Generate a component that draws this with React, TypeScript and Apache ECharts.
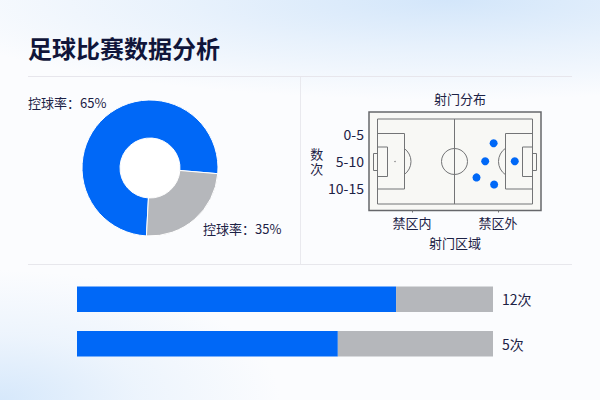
import React, { useEffect, useRef } from "react";
import * as echarts from "echarts";

const titleText = "足球比赛数据分析";
const pitchTitle = "射门分布";
const pitchXName = "射门区域";
const pitchYName = "数\n次";
const possessionNames = ["控球率\uff1a65%", "控球率\uff1a35%"];
const possessionSlices = [75.5, 24.5];
const zoneLabels = ["禁区内", "禁区外"];
const zoneTicks = [0.5, 1.5];
const countLabels = ["0-5", "5-10", "10-15"];
const countTicks = [0, 1, 2];
const shotX = [1.449, 1.351, 1.695, 1.25, 1.455];
const shotY = [0.33, 1, 1, 1.6, 1.86];
const barCategories = ["A", "B"];
const barBlue = [76.7, 62.7];
const barGray = [23.3, 37.3];
const barLabels = ["12次", "5次"];

const FONT = '"Noto Sans CJK SC", "Noto Sans", sans-serif';
const INK = "#1c2145";
const BLUE = "#0068f7";
const GRAY = "#b5b7bb";
const LINE = "#737476";

const pitchLine = { stroke: LINE, lineWidth: 1, fill: "transparent" };
const rect = (x: number, y: number, width: number, height: number) => ({
  type: "rect", z: 1, silent: true, shape: { x, y, width, height }, style: pitchLine,
});
const line = (x1: number, y1: number, x2: number, y2: number, stroke: string, lineWidth = 1) => ({
  type: "line", z: 1, silent: true, shape: { x1, y1, x2, y2 }, style: { stroke, lineWidth },
});
const arc = (cx: number, cy: number, r: number, startAngle: number, endAngle: number) => ({
  type: "arc", z: 1, silent: true, shape: { cx, cy, r, startAngle, endAngle },
  style: { stroke: LINE, lineWidth: 1, fill: "transparent" },
});

export default function App() {
  const ref = useRef<HTMLDivElement>(null);
  useEffect(() => {
    const chart = echarts.init(ref.current!, undefined, { renderer: "svg" });
    const a = Math.acos(9 / 16);
    chart.setOption({
      animation: false,
      textStyle: { fontFamily: FONT },
      title: [
        { text: titleText, left: 23, top: 26, textStyle: { fontSize: 24, fontWeight: 700, color: "#10153a", fontFamily: FONT, lineHeight: 32 } },
        { text: pitchTitle, left: 455, top: 84, textAlign: "center", textStyle: { fontSize: 13, fontWeight: 400, color: INK, fontFamily: FONT, lineHeight: 18 } },
      ],
      graphic: [
        line(28, 76.5, 572, 76.5, "#e7e6ec"),
        line(28, 264.5, 572, 264.5, "#e7e7ec"),
        line(300.5, 77, 300.5, 264, "#e9e9ee"),
        { type: "circle", z: 1, silent: true, shape: { cx: 150, cy: 167.5, r: 31 }, style: { fill: "#ffffff" } },
        rect(377.5, 119, 155, 85),
        line(454.5, 119, 454.5, 204, LINE),
        { type: "circle", z: 1, silent: true, shape: { cx: 454.5, cy: 161.5, r: 13 }, style: pitchLine },
        rect(377.5, 133.5, 27, 55.5),
        rect(377.5, 147, 10, 29.5),
        rect(373.5, 153.5, 4, 17),
        { type: "circle", z: 1, silent: true, shape: { cx: 395, cy: 161.5, r: 0.7 }, style: { fill: LINE } },
        arc(395, 161.5, 16, -a, a),
        rect(505.5, 133.5, 27, 55.5),
        rect(522.5, 147, 10, 29.5),
        rect(532.5, 153.5, 4, 17),
        arc(514.5, 161.5, 16, Math.PI - a, Math.PI + a),
      ],
      grid: [
        {
          left: 369, top: 112, width: 172, height: 98.5, show: true,
          backgroundColor: "#f8f8f5", borderColor: "#66676b", borderWidth: 1.5,
        },
        { left: 77, top: 277, width: 416, height: 89 },
      ],
      xAxis: [
        {
          gridIndex: 0, type: "value", min: 0, max: 2, splitLine: { show: false },
          axisLine: { show: false, onZero: false },
          axisTick: { show: true, customValues: zoneTicks, length: 2, lineStyle: { color: LINE } },
          axisLabel: {
            customValues: zoneTicks, margin: 5, fontSize: 13, color: INK, fontFamily: FONT,
            formatter: (v: number) => zoneLabels[zoneTicks.indexOf(v)],
          },
          name: pitchXName, nameLocation: "middle", nameGap: 25,
          nameTextStyle: { fontSize: 13, color: INK, fontFamily: FONT },
        },
        { gridIndex: 1, type: "value", min: 0, max: 100, show: false },
      ],
      yAxis: [
        {
          gridIndex: 0, type: "value", inverse: true, min: -0.828, max: 2.828, splitLine: { show: false },
          axisLine: { show: false, onZero: false }, axisTick: { show: false },
          axisLabel: {
            customValues: countTicks, margin: 5, fontSize: 14, color: INK, fontFamily: FONT,
            formatter: (v: number) => countLabels[countTicks.indexOf(v)],
          },
          name: pitchYName, nameLocation: "middle", nameGap: 43, nameRotate: 0,
          nameTextStyle: { fontSize: 13, color: INK, fontFamily: FONT, lineHeight: 15 },
        },
        { gridIndex: 1, type: "category", inverse: true, data: barCategories, show: false },
      ],
      series: [
        {
          type: "pie", center: [150, 168], radius: [30, 68], startAngle: -93, clockwise: true,
          itemStyle: { borderColor: "#ffffff", borderWidth: 1 },
          labelLine: { show: false },
          label: { show: true, overflow: "none", width: 120, fontSize: 13, color: INK, fontFamily: FONT, formatter: "{b}" },
          labelLayout: (p: any) => p.dataIndex === 0
            ? { x: 28, y: 102, align: "left", verticalAlign: "middle" }
            : { x: 203, y: 228, align: "left", verticalAlign: "middle" },
          data: possessionSlices.map((value, i) => ({
            value, name: possessionNames[i], itemStyle: { color: i === 0 ? BLUE : GRAY },
          })),
        },
        {
          type: "scatter", xAxisIndex: 0, yAxisIndex: 0, symbolSize: 8, z: 5,
          itemStyle: { color: BLUE, opacity: 1 },
          data: shotX.map((x, i) => [x, shotY[i]]),
        },
        {
          type: "bar", xAxisIndex: 1, yAxisIndex: 1, stack: "t", barWidth: 25.6,
          itemStyle: { color: BLUE }, data: barBlue,
        },
        {
          type: "bar", xAxisIndex: 1, yAxisIndex: 1, stack: "t", barWidth: 25.6,
          itemStyle: { color: GRAY }, data: barGray,
          label: {
            show: true, position: "right", distance: 9, fontSize: 14, color: INK, fontFamily: FONT,
            formatter: (p: any) => barLabels[p.dataIndex],
          },
        },
      ],
    });
    return () => chart.dispose();
  }, []);
  return (
    <div
      ref={ref}
      style={{
        position: "absolute", left: 0, top: 0, width: 600, height: 400,
        background:
          "radial-gradient(ellipse 540px 100px at 450px 0px, #d3e6fa 0%, rgba(220,235,251,0.6) 50%, rgba(255,255,255,0) 100%), radial-gradient(ellipse 280px 130px at 0px 400px, #d6e8fb 0%, rgba(220,235,251,0.45) 50%, rgba(255,255,255,0) 100%), #fbfcfe",
      }}
    />
  );
}
